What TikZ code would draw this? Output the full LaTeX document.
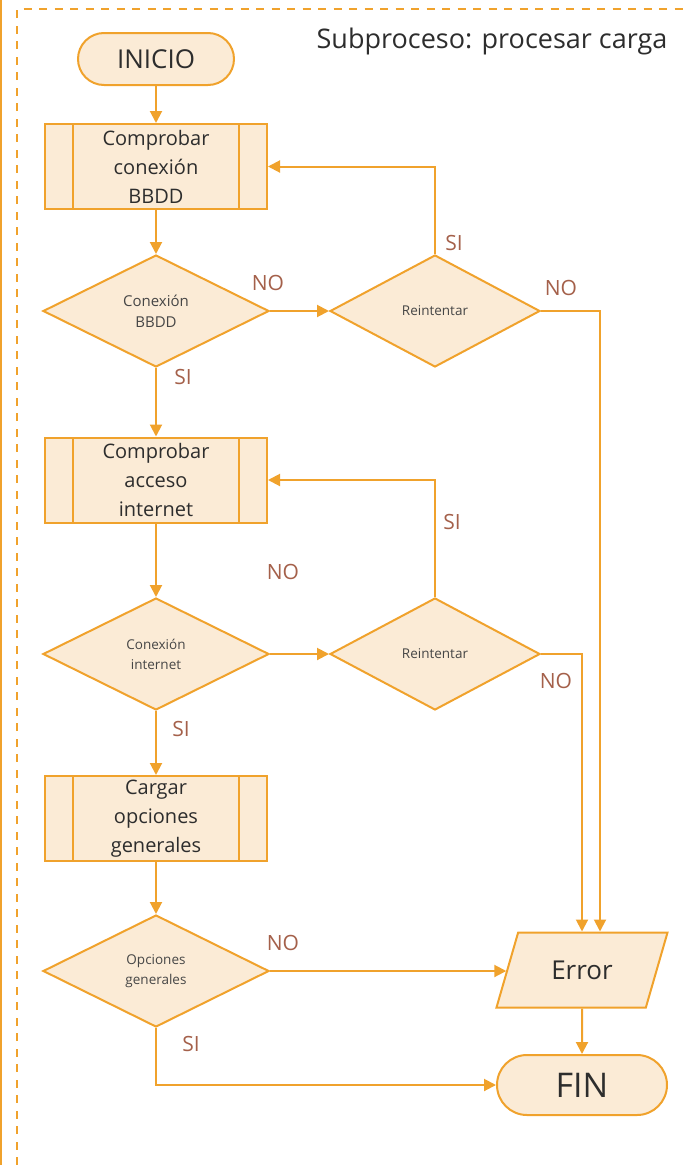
\documentclass[tikz,border=0pt]{standalone}
\usepackage{fontspec}
\setmainfont{Open Sans}
\usetikzlibrary{shapes.geometric, arrows.meta}
\definecolor{naranja}{RGB}{240,162,44}
\definecolor{crema}{RGB}{251,235,214}
\definecolor{marron}{RGB}{164,96,74}
\definecolor{texto}{RGB}{45,45,45}
\definecolor{textogris}{RGB}{70,70,70}

\begin{document}
\begin{tikzpicture}[x=1pt, y=-1pt,
    linea/.style={draw=naranja, line width=2pt},
    flecha/.style={linea, -{Triangle[length=12pt, width=12pt]}},
    marco/.style={draw=naranja, line width=2pt, dash pattern=on 8pt off 7.5pt},
    terminal/.style={linea, fill=crema, rounded corners=26pt, minimum width=156pt,
        minimum height=52pt, text=texto, font=\fontsize{26}{30}\selectfont},
    subproceso/.style={linea, fill=crema, minimum width=222pt, minimum height=85pt,
        inner sep=0pt, align=center, text=texto, font=\fontsize{20}{29}\selectfont,
        path picture={
            \draw[naranja, line width=2pt]
                ([xshift=28pt]path picture bounding box.north west) --
                ([xshift=28pt]path picture bounding box.south west)
                ([xshift=-28pt]path picture bounding box.north east) --
                ([xshift=-28pt]path picture bounding box.south east);}},
    decision/.style={diamond, linea, fill=crema, inner sep=0pt, align=center,
        minimum width=226pt, minimum height=112pt, text=textogris,
        font=\fontsize{13.5}{20}\selectfont},
    salida/.style={trapezium, trapezium left angle=65.6, trapezium right angle=114.4,
        trapezium stretches=true, linea, fill=crema, minimum width=172pt,
        minimum height=75pt, text=texto, font=\fontsize{26}{30}\selectfont},
    etiqueta/.style={text=marron, font=\fontsize{21}{24}\selectfont, inner sep=0pt}]
    \useasboundingbox (0,0) rectangle (686,1165);

    % Marco del subproceso
    \draw[naranja, line width=1.5pt] (1,0) -- (1,1165);
    \draw[marco] (17,1165) -- (17,9) -- (686,9);
    \node[anchor=base, text=texto, font=\fontsize{27}{30}\selectfont]
        (titulo) at (492,48) {Subproceso: procesar carga};

    % Columna principal
    \node[terminal] (inicio) at (156,59) {INICIO};
    \node[subproceso] (chkbd) at (156,166.5) {Comprobar\\conexión\\BBDD};
    \node[decision, font=\fontsize{15}{21.5}\selectfont] (conbd) at (156,311)
        {Conexión\\BBDD};
    \node[subproceso] (chknet) at (156,480) {Comprobar\\acceso\\internet};
    \node[decision] (connet) at (156,654) {Conexión\\internet};
    \node[subproceso] (cargar) at (156,818.5) {Cargar\\opciones\\generales};
    \node[decision] (opciones) at (156,971) {Opciones\\generales};

    % Reintentos
    \node[decision, minimum width=210pt] (rebd) at (435,311) {Reintentar};
    \node[decision, minimum width=210pt] (renet) at (435,654) {Reintentar};

    % Error y fin
    \node[salida] (error) at (582,970) {Error};
    \node[terminal, minimum width=170pt, minimum height=60pt, rounded corners=30pt,
        font=\fontsize{34}{38}\selectfont] (fin) at (582,1085) {FIN};

    % Flechas
    \draw[flecha] (inicio) -- (chkbd);
    \draw[flecha] (chkbd) -- (conbd);
    \draw[flecha] (conbd) -- (chknet);
    \draw[flecha] (chknet) -- (connet);
    \draw[flecha] (connet) -- (cargar);
    \draw[flecha] (cargar) -- (opciones);
    \draw[flecha] (conbd.east) -- (rebd.west);
    \draw[flecha] (connet.east) -- (renet.west);
    \draw[flecha] (rebd.north) |- (chkbd.east);
    \draw[flecha] (renet.north) |- (chknet.east);
    \draw[flecha] (rebd.east) -| ([xshift=18pt]error.north);
    \draw[flecha] (renet.east) -| (error.north);
    \draw[flecha] (opciones.east) -- (opciones.east -| error.left side);
    \draw[flecha] (opciones.south) |- (fin.west);
    \draw[flecha] (error.south) -- (fin.north);

    % Etiquetas
    \node[etiqueta] (no1) at (268,283) {NO};
    \node[etiqueta] (si1) at (183,377) {SI};
    \node[etiqueta] (si2) at (454,243) {SI};
    \node[etiqueta] (no2) at (561,288) {NO};
    \node[etiqueta] (no3) at (283,572) {NO};
    \node[etiqueta] (si3) at (181,729) {SI};
    \node[etiqueta] (si4) at (452,522) {SI};
    \node[etiqueta] (no4) at (556,681) {NO};
    \node[etiqueta] (no5) at (283,943) {NO};
    \node[etiqueta] (si5) at (191,1044) {SI};
\end{tikzpicture}
\end{document}
